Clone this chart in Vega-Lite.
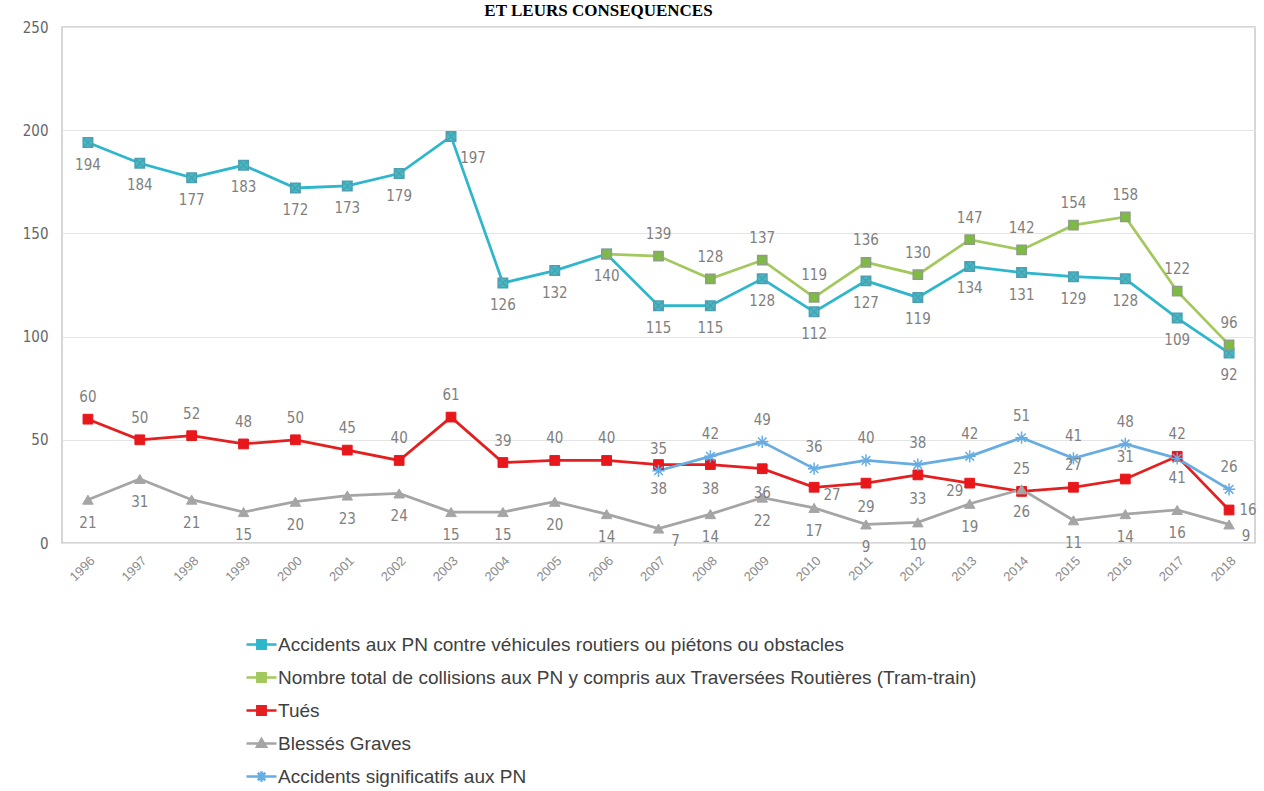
{
  "$schema": "https://vega.github.io/schema/vega-lite/v6.json",
  "autosize": "none",
  "width": 1193,
  "height": 516,
  "padding": {"left": 62, "top": 27, "right": 9, "bottom": 248},
  "background": "white",
  "title": {
    "text": "ET LEURS CONSEQUENCES",
    "font": "Liberation Serif",
    "fontSize": 17,
    "fontWeight": "bold",
    "color": "#000000",
    "anchor": "middle",
    "frame": "group",
    "baseline": "alphabetic",
    "offset": 2,
    "dy": 15,
    "dx": -60
  },
  "config": {
    "view": {"stroke": "#c9c9c9", "strokeWidth": 1.5},
    "font": "Liberation Sans",
    "text": {"font": "Liberation Sans Narrow, DejaVu Sans Condensed, sans-serif", "fontSize": 15, "color": "#7f7f7f"}
  },
  "data": {
    "values": [
      {"annee": 1996, "Accidents aux PN contre véhicules routiers ou piétons ou obstacles": 194, "Tués": 60, "Blessés Graves": 21},
      {"annee": 1997, "Accidents aux PN contre véhicules routiers ou piétons ou obstacles": 184, "Tués": 50, "Blessés Graves": 31},
      {"annee": 1998, "Accidents aux PN contre véhicules routiers ou piétons ou obstacles": 177, "Tués": 52, "Blessés Graves": 21},
      {"annee": 1999, "Accidents aux PN contre véhicules routiers ou piétons ou obstacles": 183, "Tués": 48, "Blessés Graves": 15},
      {"annee": 2000, "Accidents aux PN contre véhicules routiers ou piétons ou obstacles": 172, "Tués": 50, "Blessés Graves": 20},
      {"annee": 2001, "Accidents aux PN contre véhicules routiers ou piétons ou obstacles": 173, "Tués": 45, "Blessés Graves": 23},
      {"annee": 2002, "Accidents aux PN contre véhicules routiers ou piétons ou obstacles": 179, "Tués": 40, "Blessés Graves": 24},
      {"annee": 2003, "Accidents aux PN contre véhicules routiers ou piétons ou obstacles": 197, "Tués": 61, "Blessés Graves": 15},
      {"annee": 2004, "Accidents aux PN contre véhicules routiers ou piétons ou obstacles": 126, "Tués": 39, "Blessés Graves": 15},
      {"annee": 2005, "Accidents aux PN contre véhicules routiers ou piétons ou obstacles": 132, "Tués": 40, "Blessés Graves": 20},
      {"annee": 2006, "Accidents aux PN contre véhicules routiers ou piétons ou obstacles": 140, "Nombre total de collisions aux PN y compris aux Traversées Routières (Tram-train)": 140, "Tués": 40, "Blessés Graves": 14},
      {"annee": 2007, "Accidents aux PN contre véhicules routiers ou piétons ou obstacles": 115, "Nombre total de collisions aux PN y compris aux Traversées Routières (Tram-train)": 139, "Tués": 38, "Blessés Graves": 7, "Accidents significatifs aux PN": 35},
      {"annee": 2008, "Accidents aux PN contre véhicules routiers ou piétons ou obstacles": 115, "Nombre total de collisions aux PN y compris aux Traversées Routières (Tram-train)": 128, "Tués": 38, "Blessés Graves": 14, "Accidents significatifs aux PN": 42},
      {"annee": 2009, "Accidents aux PN contre véhicules routiers ou piétons ou obstacles": 128, "Nombre total de collisions aux PN y compris aux Traversées Routières (Tram-train)": 137, "Tués": 36, "Blessés Graves": 22, "Accidents significatifs aux PN": 49},
      {"annee": 2010, "Accidents aux PN contre véhicules routiers ou piétons ou obstacles": 112, "Nombre total de collisions aux PN y compris aux Traversées Routières (Tram-train)": 119, "Tués": 27, "Blessés Graves": 17, "Accidents significatifs aux PN": 36},
      {"annee": 2011, "Accidents aux PN contre véhicules routiers ou piétons ou obstacles": 127, "Nombre total de collisions aux PN y compris aux Traversées Routières (Tram-train)": 136, "Tués": 29, "Blessés Graves": 9, "Accidents significatifs aux PN": 40},
      {"annee": 2012, "Accidents aux PN contre véhicules routiers ou piétons ou obstacles": 119, "Nombre total de collisions aux PN y compris aux Traversées Routières (Tram-train)": 130, "Tués": 33, "Blessés Graves": 10, "Accidents significatifs aux PN": 38},
      {"annee": 2013, "Accidents aux PN contre véhicules routiers ou piétons ou obstacles": 134, "Nombre total de collisions aux PN y compris aux Traversées Routières (Tram-train)": 147, "Tués": 29, "Blessés Graves": 19, "Accidents significatifs aux PN": 42},
      {"annee": 2014, "Accidents aux PN contre véhicules routiers ou piétons ou obstacles": 131, "Nombre total de collisions aux PN y compris aux Traversées Routières (Tram-train)": 142, "Tués": 25, "Blessés Graves": 26, "Accidents significatifs aux PN": 51},
      {"annee": 2015, "Accidents aux PN contre véhicules routiers ou piétons ou obstacles": 129, "Nombre total de collisions aux PN y compris aux Traversées Routières (Tram-train)": 154, "Tués": 27, "Blessés Graves": 11, "Accidents significatifs aux PN": 41},
      {"annee": 2016, "Accidents aux PN contre véhicules routiers ou piétons ou obstacles": 128, "Nombre total de collisions aux PN y compris aux Traversées Routières (Tram-train)": 158, "Tués": 31, "Blessés Graves": 14, "Accidents significatifs aux PN": 48},
      {"annee": 2017, "Accidents aux PN contre véhicules routiers ou piétons ou obstacles": 109, "Nombre total de collisions aux PN y compris aux Traversées Routières (Tram-train)": 122, "Tués": 42, "Blessés Graves": 16, "Accidents significatifs aux PN": 41},
      {"annee": 2018, "Accidents aux PN contre véhicules routiers ou piétons ou obstacles": 92, "Nombre total de collisions aux PN y compris aux Traversées Routières (Tram-train)": 96, "Tués": 16, "Blessés Graves": 9, "Accidents significatifs aux PN": 26}
    ]
  },
  "transform": [
    {"fold": ["Accidents aux PN contre véhicules routiers ou piétons ou obstacles", "Nombre total de collisions aux PN y compris aux Traversées Routières (Tram-train)", "Tués", "Blessés Graves", "Accidents significatifs aux PN"], "as": ["serie", "valeur"]},
    {"filter": "isValid(datum.valeur)"}
  ],
  "encoding": {
    "x": {
      "field": "annee",
      "type": "ordinal",
      "scale": {"padding": 0.5},
      "axis": {"title": null, "labelAngle": -45, "labelColor": "#8c8c8c", "labelFontSize": 13, "labelFont": "Liberation Sans", "labelPadding": 11, "ticks": false, "domain": false, "grid": false}
    },
    "y": {
      "field": "valeur",
      "type": "quantitative",
      "scale": {"domain": [0, 250], "nice": false},
      "axis": {"title": null, "values": [0, 50, 100, 150, 200, 250], "labelColor": "#666666", "labelFontSize": 15, "labelFont": "Liberation Sans Narrow, DejaVu Sans Condensed, sans-serif", "labelPadding": 14, "ticks": false, "domain": false, "gridColor": "#e4e4e4", "gridWidth": 1}
    }
  },
  "layer": [
    {
      "mark": {"type": "line", "strokeWidth": 2.75},
      "encoding": {
        "color": {
          "field": "serie",
          "type": "nominal",
          "scale": {
            "domain": ["Accidents aux PN contre véhicules routiers ou piétons ou obstacles", "Nombre total de collisions aux PN y compris aux Traversées Routières (Tram-train)", "Tués", "Blessés Graves", "Accidents significatifs aux PN"],
            "range": ["#2db6cc", "#a3c95e", "#e31f1f", "#a5a5a5", "#67ade2"]
          },
          "legend": {
            "orient": "none",
            "legendX": 183,
            "legendY": 601,
            "direction": "vertical",
            "title": null,
            "labelFont": "Liberation Sans",
            "labelFontSize": 19,
            "labelColor": "#404040",
            "labelLimit": 0,
            "symbolSize": 900,
            "symbolStrokeWidth": 2.5,
            "rowPadding": 6,
            "labelOffset": 0,
            "encode": {
              "symbols": {
                "update": {
                  "shape": {"signal": "(datum.value == 'Tués' || indexof(datum.value, 'Nombre') == 0) ? 'M-1,0H1M-0.28,-0.28H0.28V0.28H-0.28Z' : datum.value == 'Blessés Graves' ? 'M-1,0H1M0,-0.3L0.3,0.22H-0.3Z' : datum.value == 'Accidents significatifs aux PN' ? 'M-1,0H1M0,-0.35V0.35M-0.25,-0.25L0.25,0.25M-0.25,0.25L0.25,-0.25' : 'M-1,0H1M-0.28,-0.28H0.28V0.28H-0.28ZM-0.28,-0.28L0.28,0.28M-0.28,0.28L0.28,-0.28'"},
                  "fill": {"scale": "color", "field": "value"},
                  "stroke": {"scale": "color", "field": "value"},
                  "strokeWidth": {"value": 2.5},
                  "opacity": {"value": 1}
                }
              }
            }
          }
        }
      }
    },
    {
      "transform": [{"filter": "indexof(datum.serie, 'Accidents aux') == 0"}],
      "mark": {"type": "point", "filled": true, "opacity": 1, "strokeWidth": 1.5, "shape": "M-1,-1H1V1H-1ZM-1,-1L1,1M-1,1L1,-1", "fill": "#3cbfc6", "stroke": "#4f9fb2", "size": 90}
    },
    {
      "transform": [{"filter": "indexof(datum.serie, 'Nombre') == 0"}],
      "mark": {"type": "point", "filled": true, "opacity": 1, "strokeWidth": 1.5, "shape": "square", "fill": "#7dbb42", "stroke": "#8f9d84", "size": 85}
    },
    {
      "transform": [{"filter": "datum.serie == 'Tués'"}],
      "mark": {"type": "point", "filled": true, "opacity": 1, "strokeWidth": 1, "shape": "square", "fill": "#e8171c", "stroke": "#e8171c", "size": 95}
    },
    {
      "transform": [{"filter": "datum.serie == 'Blessés Graves'"}],
      "mark": {"type": "point", "filled": true, "opacity": 1, "strokeWidth": 1, "shape": "triangle-up", "fill": "#a5a5a5", "stroke": "#a5a5a5", "size": 110}
    },
    {
      "transform": [{"filter": "datum.serie == 'Accidents significatifs aux PN'"}],
      "mark": {"type": "point", "filled": false, "opacity": 1, "strokeWidth": 1.5, "shape": "M-1,0H1M0,-1V1M-0.7,-0.7L0.7,0.7M-0.7,0.7L0.7,-0.7", "stroke": "#67ade2", "size": 150}
    },
    {
      "transform": [{"filter": "indexof(datum.serie, 'Accidents aux') == 0 && datum.annee != 2003"}],
      "mark": {"type": "text", "dy": 22},
      "encoding": {"text": {"field": "valeur", "type": "quantitative"}}
    },
    {
      "transform": [{"filter": "indexof(datum.serie, 'Accidents aux') == 0 && datum.annee == 2003"}],
      "mark": {"type": "text", "dy": 22, "dx": 22},
      "encoding": {"text": {"field": "valeur", "type": "quantitative"}}
    },
    {
      "transform": [{"filter": "indexof(datum.serie, 'Nombre') == 0 && datum.annee >= 2007"}],
      "mark": {"type": "text", "dy": -22},
      "encoding": {"text": {"field": "valeur", "type": "quantitative"}}
    },
    {
      "transform": [{"filter": "datum.serie == 'Tués' && (datum.annee <= 2006 || (datum.annee >= 2014 && datum.annee <= 2017))"}],
      "mark": {"type": "text", "dy": -22},
      "encoding": {"text": {"field": "valeur", "type": "quantitative"}}
    },
    {
      "transform": [{"filter": "datum.serie == 'Tués' && datum.annee >= 2007 && datum.annee <= 2012 && datum.annee != 2010"}],
      "mark": {"type": "text", "dy": 24},
      "encoding": {"text": {"field": "valeur", "type": "quantitative"}}
    },
    {
      "transform": [{"filter": "datum.serie == 'Tués' && datum.annee == 2010"}],
      "mark": {"type": "text", "dy": 8, "dx": 18},
      "encoding": {"text": {"field": "valeur", "type": "quantitative"}}
    },
    {
      "transform": [{"filter": "datum.serie == 'Tués' && datum.annee == 2013"}],
      "mark": {"type": "text", "dy": 8, "dx": -15},
      "encoding": {"text": {"field": "valeur", "type": "quantitative"}}
    },
    {
      "transform": [{"filter": "datum.serie == 'Tués' && datum.annee == 2018"}],
      "mark": {"type": "text", "dx": 19},
      "encoding": {"text": {"field": "valeur", "type": "quantitative"}}
    },
    {
      "transform": [{"filter": "datum.serie == 'Blessés Graves' && datum.annee != 2007 && datum.annee != 2018"}],
      "mark": {"type": "text", "dy": 23},
      "encoding": {"text": {"field": "valeur", "type": "quantitative"}}
    },
    {
      "transform": [{"filter": "datum.serie == 'Blessés Graves' && (datum.annee == 2007 || datum.annee == 2018)"}],
      "mark": {"type": "text", "dy": 12, "dx": 17},
      "encoding": {"text": {"field": "valeur", "type": "quantitative"}}
    },
    {
      "transform": [{"filter": "datum.serie == 'Accidents significatifs aux PN' && datum.annee != 2017"}],
      "mark": {"type": "text", "dy": -22},
      "encoding": {"text": {"field": "valeur", "type": "quantitative"}}
    },
    {
      "transform": [{"filter": "datum.serie == 'Accidents significatifs aux PN' && datum.annee == 2017"}],
      "mark": {"type": "text", "dy": 20},
      "encoding": {"text": {"field": "valeur", "type": "quantitative"}}
    }
  ]
}
